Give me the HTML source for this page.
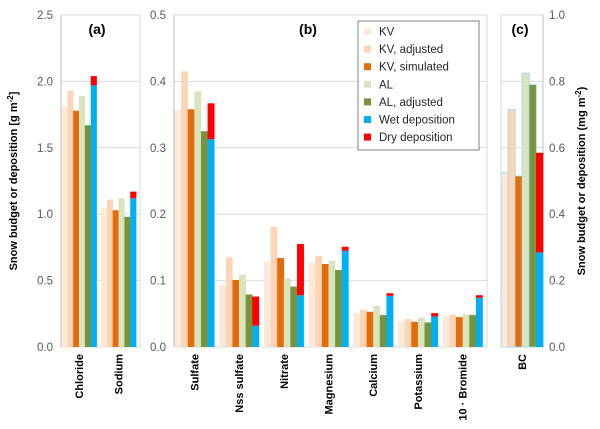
<!DOCTYPE html>
<html><head><meta charset="utf-8"><style>
body{margin:0;background:#fff}
svg{display:block;font-family:"Liberation Sans",sans-serif}
</style></head><body>
<svg id="chart" width="600" height="429" xmlns="http://www.w3.org/2000/svg"></svg>
<script>
const seriesNames=["KV","KV, adjusted","KV, simulated","AL","AL, adjusted","Wet deposition","Dry deposition"];
const colors=["#fde9d9","#fbd5b5","#e46c0a","#d7e4bd","#77933c","#00b0f0","#ff0000"];
const catsA=["Chloride","Sodium"];
const kvA=[1.81,1.05],kvAdjA=[1.93,1.11],kvSimA=[1.78,1.03],alA=[1.89,1.12],alAdjA=[1.67,0.98],wetA=[1.97,1.12],dryA=[0.07,0.05];
const catsB=["Sulfate","Nss sulfate","Nitrate","Magnesium","Calcium","Potassium","10 · Bromide"];
const kvB=[0.357,0.094,0.128,0.127,0.051,0.039,0.047];
const kvAdjB=[0.415,0.135,0.181,0.137,0.056,0.042,0.049];
const kvSimB=[0.358,0.101,0.134,0.125,0.053,0.038,0.045];
const alB=[0.385,0.109,0.103,0.130,0.062,0.044,0.049];
const alAdjB=[0.325,0.079,0.091,0.116,0.048,0.037,0.048];
const wetB=[0.313,0.032,0.078,0.145,0.077,0.046,0.074];
const dryB=[0.054,0.044,0.077,0.006,0.004,0.005,0.004];
const catsC=["BC"];
const kvC=[0.525],kvAdjC=[0.715],kvSimC=[0.515],alC=[0.825],alAdjC=[0.79],wetC=[0.285],dryC=[0.30];
const ticksA=["0.0","0.5","1.0","1.5","2.0","2.5"];
const ticksB=["0.0","0.1","0.2","0.3","0.4","0.5"];
const ticksC=["0.0","0.2","0.4","0.6","0.8","1.0"];

const svg=document.getElementById('chart');
const NS="http://www.w3.org/2000/svg";
function mk(tag,attrs,parent){const e=document.createElementNS(NS,tag);for(const k in attrs)e.setAttribute(k,attrs[k]);(parent||svg).appendChild(e);return e;}
const Y0=347,Y1=15;

function panel(name,x0,x1,max,ticks,cats,series,tickSide,label,labelX){
  const g=mk('g',{});
  
  
  const y=v=>Y0-(v/max)*(Y0-Y1);
  ticks.forEach(t=>{
    const yy=y(parseFloat(t));
    const l=mk('line',{x1:x0,x2:x1,y1:yy,y2:yy,stroke:'#d9d9d9','stroke-width':1},g);
    
    
    const tx=tickSide==='left'?x0-8:x1+6;
    const tt=mk('text',{x:tx,y:yy+4,'font-size':11.5,fill:'#595959','text-anchor':tickSide==='left'?'end':'start'},g);
    tt.textContent=t;
    
    
  });
  const fr=mk('line',{x1:tickSide==='left'?x1:x0,x2:tickSide==='left'?x1:x0,y1:Y1,y2:Y0,stroke:'#d9d9d9'},g);
  
  
  const ax=mk('line',{x1:tickSide==='left'?x0:x1,x2:tickSide==='left'?x0:x1,y1:Y1,y2:Y0,stroke:'#bfbfbf'},g);
  
  
  const cw=(x1-x0)/cats.length;
  const bw=cats.length===1?cw/6:cw*0.148;
  cats.forEach((c,i)=>{
    const gx=x0+i*cw+(cats.length===1?0:0.5);
    for(let s=0;s<6;s++){
      const v=series[s][i];
      const bx=gx+s*bw;
      const r=mk('rect',{x:bx,y:y(v),width:bw+0.3,height:Y0-y(v),fill:colors[s]},g);
      if(cats.length===1&&s<5) {r.setAttribute('stroke','#9bd8f2');r.setAttribute('stroke-width','0.8');}
      
      
      if(s===5){
        const d=series[6][i];
        const r2=mk('rect',{x:bx,y:y(v+d),width:bw+0.3,height:y(v)-y(v+d),fill:colors[6]},g);
        
        
      }
    }
    const cx=gx+3*bw;
    const tl=mk('text',{x:0,y:0,'font-size':11,'font-weight':'bold',fill:'#000','text-anchor':'end',transform:`translate(${cx+4},${Y0+7}) rotate(-90)`},g);
    tl.textContent=c;
    
    
  });
  const pl=mk('text',{x:labelX,y:34,'font-size':14,'font-weight':'bold','text-anchor':'middle'},g);
  pl.textContent=label;
  
  
}
panel('panel-a',61,140,2.5,ticksA,catsA,[kvA,kvAdjA,kvSimA,alA,alAdjA,wetA,dryA],'left','(a)',97);
panel('panel-b',174,487,0.5,ticksB,catsB,[kvB,kvAdjB,kvSimB,alB,alAdjB,wetB,dryB],'left','(b)',308);
panel('panel-c',501,543,1.0,ticksC,catsC,[kvC,kvAdjC,kvSimC,alC,alAdjC,wetC,dryC],'right','(c)',520);

const yl=mk('text',{x:0,y:0,'font-size':11,'font-weight':'bold','text-anchor':'middle',transform:'translate(17,181) rotate(-90)'});
yl.innerHTML='Snow budget or deposition [g m<tspan dy="-4" font-size="8">-2</tspan><tspan dy="4">]</tspan>';


const yr=mk('text',{x:0,y:0,'font-size':11,'font-weight':'bold','text-anchor':'middle',transform:'translate(585,181) rotate(-90)'});
yr.innerHTML='Snow budget or deposition (mg m<tspan dy="-4" font-size="8">-2</tspan><tspan dy="4">)</tspan>';



const lg=mk('g',{});


const lb=mk('rect',{x:358,y:21,width:121,height:129,fill:'#fff',stroke:'#808080'},lg);


seriesNames.forEach((n,i)=>{
  const yy=31+i*17.6;
  const sw=mk('rect',{x:364,y:yy-3,width:7,height:7,fill:colors[i]},lg);
  
  
  const t=mk('text',{x:379,y:yy+4.5,'font-size':11.5,fill:'#262626'},lg);
  t.textContent=n;
  
  
});
</script>
</body></html>
